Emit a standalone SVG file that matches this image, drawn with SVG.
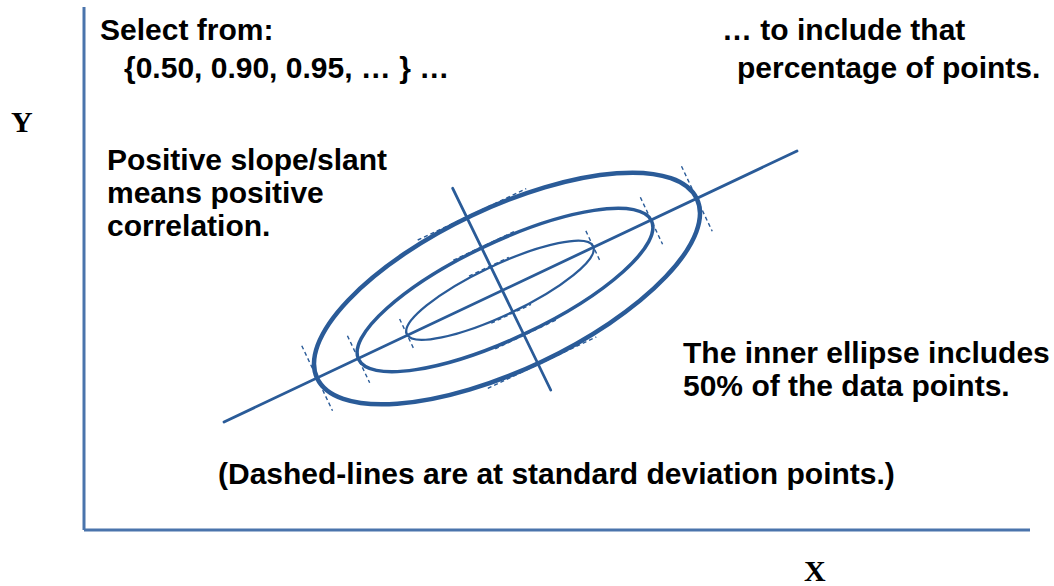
<svg xmlns="http://www.w3.org/2000/svg" width="1054" height="586" viewBox="0 0 1054 586">
<style>
.t{font-family:"Liberation Sans",Arial,sans-serif;font-weight:bold;font-size:30px;fill:#000}
.s{font-family:"Liberation Serif","Times New Roman",serif;font-weight:bold;font-size:30px;fill:#000}
.ax{stroke:#4A74AC;stroke-width:3;fill:none}
.ln{stroke:#2A5B98;stroke-width:2.8;fill:none;stroke-linecap:round}
.el{stroke:#2A5B98;fill:none}
.d{stroke:#2A5B98;stroke-width:1.4;fill:none;stroke-dasharray:4 3}
</style>
<rect width="1054" height="586" fill="#fff"/>
<g id="axes">
<line class="ax" x1="84" y1="7" x2="84" y2="530"/>
<line class="ax" x1="84" y1="530" x2="1030" y2="530"/>
</g>
<g id="outer" transform="translate(507 288.5) rotate(-25.3)">
<ellipse class="el" rx="210" ry="81" stroke-width="4.5"/>
<line class="d" x1="-210" y1="-36" x2="-210" y2="36"/>
<line class="d" x1="210" y1="-36" x2="210" y2="36"/>
<line class="d" x1="-60" y1="-82" x2="60" y2="-82"/>
<line class="d" x1="-60" y1="82" x2="60" y2="82"/>
</g>
<g id="middle" transform="translate(505 290) rotate(-25.3)">
<ellipse class="el" rx="162" ry="48" stroke-width="3.5"/>
<line class="d" x1="-162" y1="-26" x2="-162" y2="26"/>
<line class="d" x1="162" y1="-26" x2="162" y2="26"/>
<line class="d" x1="-34" y1="-49" x2="34" y2="-49"/>
<line class="d" x1="-34" y1="49" x2="34" y2="49"/>
</g>
<g id="inner" transform="translate(500 290.3) rotate(-25.3)">
<ellipse class="el" rx="103" ry="25" stroke-width="2.3"/>
<line class="d" x1="-103" y1="-17" x2="-103" y2="17"/>
<line class="d" x1="103" y1="-17" x2="103" y2="17"/>
<line class="d" x1="-22" y1="-26" x2="22" y2="-26"/>
<line class="d" x1="-22" y1="26" x2="22" y2="26"/>
</g>
<g id="connectors">
<line class="ln" x1="224" y1="422" x2="797" y2="151"/>
<line class="ln" x1="452.7" y1="188.3" x2="550.7" y2="390"/>
</g>
<g id="labels">
<text class="s" x="11" y="132">Y</text>
<text class="s" x="804" y="581">X</text>
<text class="t" x="100" y="40">Select from:</text>
<text class="t" x="124" y="78">{0.50, 0.90, 0.95, … }  …</text>
<text class="t" x="722" y="40">… to include that</text>
<text class="t" x="737" y="78">percentage of points.</text>
<text class="t" x="107" y="170">Positive slope/slant</text>
<text class="t" x="107" y="203">means positive</text>
<text class="t" x="107" y="236">correlation.</text>
<text class="t" x="683" y="363">The inner ellipse includes</text>
<text class="t" x="683" y="396">50% of the data points.</text>
<text class="t" x="218" y="484">(Dashed-lines are at standard deviation points.)</text>
</g>
</svg>
